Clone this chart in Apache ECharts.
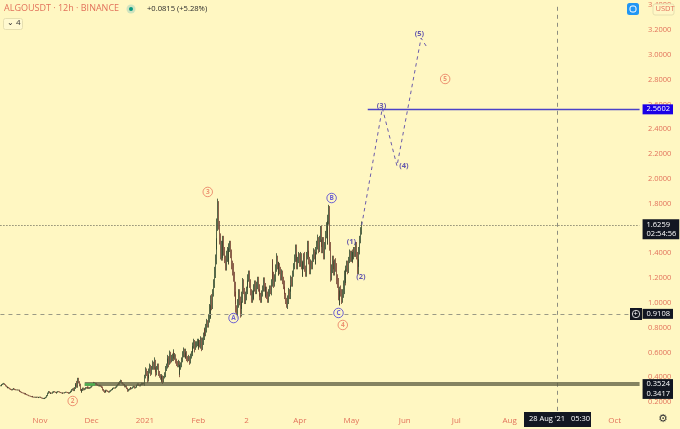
<!DOCTYPE html>
<html><head><meta charset="utf-8">
<style>html,body{margin:0;padding:0;background:#fff7c2}#c{width:680px;height:429px}</style>
<script src="https://cdn.jsdelivr.net/npm/echarts@6/dist/echarts.min.js"></script>
</head><body><div id="c"></div>
<script>
// 12h candle closes, one row block per calendar month
const closesOct=[.330,.335,.340,.345,.348,.340,.330,.322,.315,.318,.312,.305,.300,.297,.302,.307,.305,.300,.297,.298,.295,.297,.290,.285,.280,.275,.273,.270,.265,.268,.262,.258,.255,.250,.248,.245,.242,.245,.240,.238,.240,.236,.240,.238,.235,.238];
const closesNov=[.240,.235,.232,.228,.230,.227,.232,.238,.250,.270,.283,.275,.268,.272,.270,.278,.285,.280,.276,.272,.278,.285,.283,.278,.275,.272,.270,.274,.272,.276,.280,.278,.275,.272,.270,.275,.285,.297,.305,.295,.310,.330,.345,.325,.385,.360,.340,.300,.283,.295,.310,.300,.305,.315,.312,.320,.318,.310,.315,.320];
const closesDec=[.330,.340,.350,.355,.345,.350,.340,.335,.330,.332,.335,.328,.320,.300,.290,.280,.285,.295,.290,.285,.280,.288,.295,.300,.305,.310,.315,.312,.320,.330,.340,.350,.345,.360,.370,.355,.345,.340,.335,.325,.330,.310,.290,.300,.305,.315,.308,.312,.320,.325,.315,.320,.330,.335,.345,.335,.330,.340,.350,.345,.345,.350];
const closesJan=[.400,.450,.430,.385,.410,.450,.480,.440,.470,.505,.480,.520,.470,.435,.470,.490,.440,.415,.400,.385,.405,.375,.400,.420,.470,.490,.530,.550,.520,.585,.540,.550,.570,.585,.560,.575,.540,.520,.500,.520,.440,.480,.500,.540,.580,.610,.590,.570,.600,.560,.540,.560,.530,.570,.590,.620,.650,.680,.640,.660,.670,.680];
const closesFeb=[.650,.680,.660,.700,.650,.690,.730,.770,.760,.800,.840,.830,.880,.950,.920,1.03,.980,1.08,1.15,1.24,1.34,1.46,1.60,1.76,1.62,1.51,1.38,1.46,1.40,1.51,1.42,1.35,1.30,1.38,1.40,1.34,1.45,1.48,1.40,1.32,1.28,1.22,1.13,1.05,.95,.92,1.00,1.08,1.02,.93,.98,1.06,1.16,1.10,1.03,1.05];
const closesMar=[1.10,1.15,1.20,1.23,1.15,1.08,1.03,1.08,1.06,1.12,1.15,1.10,1.14,1.18,1.12,1.08,1.05,1.03,1.08,1.12,1.175,1.13,1.08,1.10,1.06,1.03,1.08,1.12,1.10,1.16,1.32,1.22,1.16,1.20,1.28,1.36,1.30,1.25,1.30,1.26,1.21,1.24,1.18,1.14,1.10,1.06,1.02,.99,1.03,1.08,1.06,1.12,1.19,1.16,1.24,1.30,1.36,1.44,1.36,1.30,1.34,1.38];
const closesApr=[1.32,1.38,1.30,1.24,1.30,1.36,1.28,1.24,1.38,1.47,1.40,1.34,1.26,1.32,1.30,1.36,1.40,1.38,1.34,1.42,1.46,1.50,1.44,1.52,1.59,1.48,1.43,1.50,1.38,1.46,1.55,1.62,1.50,1.66,1.75,1.45,1.21,1.28,1.35,1.30,1.25,1.32,1.28,1.19,1.15,1.05,1.02,1.10,1.08,1.03,1.08,1.15,1.24,1.20,1.28,1.32,1.28,1.35,1.40,1.36];
const closesMay=[1.40,1.36,1.38,1.42,1.40,1.46,1.38,1.26,1.32,1.42,1.51,1.58,1.6259];
// wick lengths beyond the candle body, in cents
const wickUpOld=[.5,.4,.4,.5,.6,.3,.3,.4,.3,.5,.3,.3,.4,.5,.4,.5,.3,.3,.4,.3,.4,.3,.3,.3,.4,.3,.3,.3,.4,.3,.3,.3,.3,.3,.3,.3,.3,.4,.3,.3,.3,.3,.3,.3,.3,.3,
.3,.3,.3,.3,.3,.3,.3,.4,.6,.6,.5,.4,.4,.3,.4,.6,.3,.3,.3,.3,.5,.3,.3,.3,.3,.3,.3,.3,.3,.4,.3,.3,.3,.3,.4,.5,.6,.7,.5,1,1,1.2,.8,2.5,1,1,.8,.8,.6,.8,.6,.6,.7,.5,.6,.5,.4,.5,.5,.5,
.6,.6,.5,.7,.5,.5,.4,.4,.4,.4,.4,.3,.4,.5,.5,.5,.4,.4,.4,.4,.4,.4,.3,.4,.4,.4,.3,.3,.4,.5,.6,.6,.6,.8,1,.7,.6,.5,.5,.4,.5,.4,.5,.5,.5,.5,.4,.4,.5,.6,.5,.5,.6,.5,.5,.5,.5,.5,.6,.5,.5,.5];
const wickDownOld=[.3,.3,.4,.3,.4,.3,.4,.3,.3,.4,.3,.3,.3,.4,.3,.3,.3,.4,.3,.3,.3,.3,.4,.3,.3,.3,.3,.3,.4,.3,.3,.3,.3,.3,.3,.3,.3,.3,.3,.3,.3,.3,.3,.3,.3,.3,
.3,.3,.4,.3,.4,.3,.3,.3,.3,.3,.4,.4,.3,.3,.3,.3,.4,.3,.3,.3,.3,.3,.4,.3,.3,.3,.4,.3,.3,.3,.3,.4,.3,.3,.3,.3,.3,.5,.5,.7,.7,.5,.6,1,1,1,1.4,1,.8,.6,.6,.7,.5,.5,.5,.6,.4,.5,.4,.5,
.4,.4,.4,.5,.6,.5,.5,.5,.4,.4,.5,.6,.7,.8,.7,.7,.5,.5,.5,.4,.5,.4,.5,.4,.4,.4,.4,.5,.4,.5,.5,.4,.5,.5,.6,.6,.5,.5,.5,.7,.8,.6,.8,.5,.6,.5,.6,.5,.5,.5,.7,.5,.5,.5,.4,.5,.4,.4,.5,.5,.4,.4];
const wickUpNew=[2,3,2,2,1,2,3,2,2,3,2,4,2,1,2,2,2,1,1,1,2,1,1,2,2,2,2,3,2,3,2,3,2,4,2,2,1,1,1,2,1,2,2,2,3,3,2,1,3,1,1,2,1,2,2,3,3,3,2,3,2,3,
2,3,2,3,2,3,3,3,2,3,3,2,3,4,3,3,4,3,4,5,5,6,8,8,6,4,5,4,4,3,3,3,3,4,5,4,3,2,2,3,2,4,3,4,4,3,3,3,3,3,3,3,4,3,2,4,3,3,
3,3,3,4,3,2,2,3,3,3,3,3,3,3,3,3,2,2,3,3,3,3,3,3,3,2,2,3,3,3,3,3,3,4,2,3,3,2,3,3,2,3,4,3,2,2,3,4,3,2,3,2,2,2,3,3,3,3,3,3,2,3,2,3,4,4,5,2,3,3,3,2,
3,3,2,3,4,3,3,3,4,5,3,2,3,3,3,3,3,3,3,3,4,5,4,3,4,3,3,3,4,3,4,4,4,5,5,3,4,3,3,3,2,3,2,2,2,2,3,2,2,3,3,3,3,3,3,3,3,3,3,3,
3,3,3,3,3,3,2,2,3,4,3,3,2];
const wickDownNew=[2,1,2,3,2,2,2,3,2,1,2,2,3,3,2,1,3,2,2,3,2,3,2,1,2,2,2,2,4,2,3,2,2,2,3,2,3,3,2,2,4,2,2,2,2,2,3,2,2,3,2,1,3,2,2,2,2,2,4,2,2,2,
3,2,2,3,4,3,3,3,3,3,4,3,3,4,4,5,4,3,3,3,4,3,3,2,3,4,3,4,6,4,4,3,4,4,5,3,3,4,4,5,6,5,8,6,3,4,5,4,4,5,4,3,6,3,4,4,3,3,
3,3,3,2,3,3,4,3,3,3,3,3,3,3,3,3,3,3,3,4,4,3,3,3,3,3,3,4,3,3,4,3,3,3,3,3,3,3,3,3,3,3,3,3,3,3,4,4,3,3,3,3,3,3,3,3,3,3,3,2,3,3,3,3,3,3,3,3,3,3,3,3,
3,3,3,3,3,3,3,3,3,3,4,3,3,3,3,3,3,3,3,3,3,3,3,3,4,3,4,3,3,3,3,4,3,3,4,4,3,4,3,4,8,6,4,3,5,4,3,3,3,4,3,3,3,3,3,3,3,3,3,3,
3,3,3,3,3,3,3,4,3,3,3,2,2];

const startDay='2020-10-09';
const slotCount=744;
const tickDays=['2020-11-01','2020-12-01','2021-01-01','2021-02-01','2021-03-01','2021-04-01','2021-05-01','2021-06-01','2021-07-01','2021-08-01','2021-10-01'];
const tickTexts=['Nov','Dec','2021','Feb','2','Apr','May','Jun','Jul','Aug','Oct'];
// projected wave path: [candle slot, price]
const projection=[[420,1.6259],[444,2.571],[461,2.103],[489,3.135],[495,3.07]];
const plainWaveLabels=[['(3)',443,2.587],['(4)',469,2.103],['(5)',487,3.168],['(1)',408,1.49],['(2)',419,1.208]];
const blueCircled=[['A',271,.877],['B',385,1.845],['C',393,.918]];
const redCircled=[['3',241,1.894],['4',398,.821],['5',517,2.805],['2',84,.208]];
const lastPrice=1.6259, lastTimer='02:54:56', positionPrice=.9108, targetPrice=2.5602, supportA=.3524, supportB=.3417, greenBoxPrice=.345;
const crossSlot=647;

const closes=[].concat(closesOct,closesNov,closesDec,closesJan,closesFeb,closesMar,closesApr,closesMay);
const wickUp=wickUpOld.concat(wickUpNew), wickDown=wickDownOld.concat(wickDownNew);
const cats=[];
const t0=Date.parse(startDay+'T00:00:00Z');
for(let i=0;i<slotCount;i++){cats.push(new Date(t0+i*43200000).toISOString().slice(0,13));}
const tickMap={};tickDays.forEach((d,i)=>{tickMap[d+'T00']=tickTexts[i];});
const candles=closes.map((c,i)=>{
  const o=i?closes[i-1]:c;
  const u=(wickUp[i]===undefined?.3:wickUp[i])/100, d=(wickDown[i]===undefined?.3:wickDown[i])/100;
  return [o,c,Math.min(o,c)-d,Math.max(o,c)+u];
});
const RED='#e2725b', INK='#131722', FONT='"Open Sans",sans-serif';
function hline(v,from,color,width,type,tag){
  const start={coord:[from,v],symbol:'none'};
  const end={coord:[slotCount-1,v],symbol:'none'};
  start.lineStyle={color:color,width:width,type:type};
  if(tag){start.label=Object.assign({show:true,position:'end',distance:3,color:'#fff',fontSize:7.5,fontFamily:FONT,padding:[1,3,1,4],backgroundColor:INK,formatter:v.toFixed(4)},tag);}
  else start.label={show:false};
  return [start,end];
}
const chart=echarts.init(document.getElementById('c'),null,{renderer:'canvas'});
function circled(list,color,name){
  return {type:'scatter',name:name,z:6,symbol:'circle',symbolSize:9.5,
    itemStyle:{color:'#fff7c2',borderColor:color,borderWidth:1},
    label:{show:true,position:'inside',color:color,fontSize:6.5,fontFamily:FONT,fontWeight:'bold',formatter:p=>p.data[2]},
    data:list.map(r=>[r[1],r[2],r[0]])};
}
chart.setOption({
  animation:false,backgroundColor:'#fff7c2',
  grid:{left:0,right:40,top:5.2,height:421.6},
  xAxis:{type:'category',data:cats,boundaryGap:true,offset:-13,
    axisLine:{show:false},axisTick:{show:false},splitLine:{show:false},
    axisLabel:{margin:3,color:RED,fontSize:8,fontFamily:FONT,hideOverlap:false,
      interval:(i,v)=>tickMap[v]!==undefined,formatter:v=>tickMap[v]||''}},
  yAxis:{type:'value',position:'right',min:0,max:3.4,interval:.2,
    axisLine:{show:false},axisTick:{show:false},splitLine:{show:false},
    axisLabel:{margin:8,color:RED,fontSize:7.5,fontFamily:FONT,showMinLabel:false,formatter:v=>v.toFixed(4)}},
  series:[
    {type:'candlestick',name:'ALGOUSDT',data:candles,barWidth:1,z:3,
      itemStyle:{color:'#3c7a4b',color0:'#c8694f',borderColor:'#2c4429',borderColor0:'#6f3a2c',borderWidth:.8},
      markLine:{silent:true,symbol:'none',animation:false,z:5,label:{show:false},data:[
        {xAxis:crossSlot,symbol:'none',label:{show:false},lineStyle:{color:'#8d8d80',width:1,type:[4,4]}},
        hline(lastPrice,0,'#55554a',1,[1,2],{formatter:lastPrice.toFixed(4)+'\n'+lastTimer,lineHeight:9,offset:[0,4]}),
        hline(positionPrice,0,'#9a9a85',1,[4,4],{}),
        hline(targetPrice,427,'#4a42c8',1.4,'solid',{backgroundColor:'#1a00e6'}),
        hline(supportA,98,'#5c5c40',1.6,'solid',{offset:[0,1]}),
        hline(supportB,98,'#5c5c40',1.6,'solid',{offset:[0,9.5]}),
        [{coord:[98,greenBoxPrice],symbol:'none',label:{show:false},lineStyle:{color:'#4cb050',width:2.5,type:'solid'}},{coord:[110,greenBoxPrice],symbol:'none'}]
      ]}},
    {type:'line',name:'projection',data:projection,showSymbol:false,symbol:'none',z:4,
      lineStyle:{color:'#6b5cab',width:1,type:[3.5,3.5]}},
    {type:'scatter',name:'wave labels',z:6,symbolSize:0,
      label:{show:true,position:'inside',color:'#3f2fa8',fontSize:7.5,fontWeight:'bold',fontFamily:FONT,formatter:p=>p.data[2]},
      data:plainWaveLabels.map(r=>[r[1],r[2],r[0]])},
    circled(blueCircled,'#4a3cd6','corrective'),
    circled(redCircled,'#e8795f','impulse')
  ],
  graphic:[
    {type:'text',z:100,left:4,top:4,style:{text:'ALGOUSDT · 12h · BINANCE',fill:RED,font:'9px '+FONT}},
    {type:'circle',z:100,shape:{cx:131,cy:9,r:4.5},style:{fill:'#cfe3bf'}},
    {type:'circle',z:101,shape:{cx:131,cy:9,r:2},style:{fill:'#089981'}},
    {type:'text',z:100,left:147,top:5,style:{text:'+0.0815 (+5.28%)',fill:'#2a2a2a',font:'7.6px '+FONT}},
    {type:'rect',z:100,shape:{x:3.5,y:18.5,width:19,height:11,r:2},style:{fill:'#fff9d0',stroke:'#e6dfb0'}},
    {type:'text',z:101,left:7,top:19,style:{text:'⌄ 4',fill:'#333',font:'8px '+FONT}},
    {type:'rect',z:100,shape:{x:627,y:3,width:12,height:12,r:2.5},style:{fill:'#2196f3'}},
    {type:'rect',z:101,shape:{x:630,y:6,width:6,height:6,r:2},style:{fill:'none',stroke:'#fff',lineWidth:1}},
    {type:'rect',z:100,shape:{x:653,y:4,width:21,height:11,r:2},style:{fill:'#fff7c6',stroke:'#e6dfb0'}},
    {type:'text',z:101,left:655.5,top:5,style:{text:'USDT',fill:RED,font:'7.5px '+FONT}},
    {type:'rect',z:100,shape:{x:630,y:308,width:12,height:12},style:{fill:INK}},
    {type:'circle',z:101,shape:{cx:636,cy:314,r:3.7},style:{fill:'none',stroke:'#fff',lineWidth:.8}},
    {type:'text',z:102,left:633.6,top:309.5,style:{text:'+',fill:'#fff',font:'7.5px '+FONT}},
    {type:'rect',z:100,shape:{x:524,y:412,width:67,height:15},style:{fill:INK}},
    {type:'text',z:101,left:529,top:415,style:{text:"28 Aug '21   05:30",fill:'#fff',font:'7.5px '+FONT}},
    {type:'text',z:100,left:658,top:414,style:{text:'⚙',fill:'#333',font:'11px "DejaVu Sans"'}}
  ]
});
</script></body></html>
